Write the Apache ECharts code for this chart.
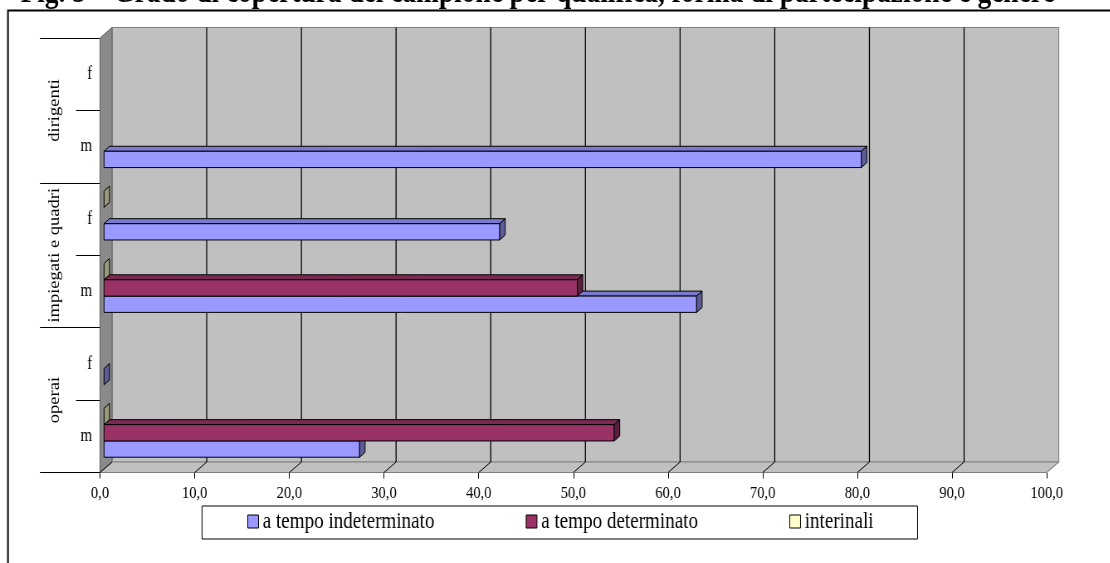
<!DOCTYPE html>
<html>
<head>
<meta charset="utf-8">
<script src="https://cdn.jsdelivr.net/npm/echarts@6/dist/echarts.min.js"></script>
<style>
  html, body { margin: 0; padding: 0; overflow: hidden; background: #fff; width: 1110px; height: 563px; }
  /* the chart is laid out wider and squeezed horizontally, giving the narrow serif look */
  #chart { width: 1337px; height: 563px; transform: scaleX(0.83); transform-origin: 0 0; }
</style>
</head>
<body>
<div id="chart"></div>
<script>
// ---- data ----
const groups = ['operai', 'impiegati e quadri', 'dirigenti'];
const genders = ['m', 'f', 'm', 'f', 'm', 'f'];
const indeterminato = [27.0, 0, 62.6, 41.8, 80.0, null];
const determinato = [53.9, null, 50.0, null, null, null];
const interinali = [0, null, 0, 0, null, null];
const seriesNames = ['a tempo indeterminato', 'a tempo determinato', 'interinali'];
const xTicks = [0, 10, 20, 30, 40, 50, 60, 70, 80, 90, 100];
const titleText = 'Fig. 5 – Grado di copertura del campione per qualifica, forma di partecipazione e genere';

// ---- styling ----
const FONT = '"Liberation Serif", "Times New Roman", serif';
const palette = [
  { front: '#9999FF', top: '#7A7ACC', side: '#5C5C99' },
  { front: '#993366', top: '#7A2952', side: '#5C1F3D' },
  { front: '#FFFFCC', top: '#CCCCA3', side: '#99997A' }
];
const WALL = [14.5, -10.5];      // depth of the box (back wall offset)
const BAR_FRONT = [4.8, -3.5];   // bars sit a little behind the front plane
const BAR_DEPTH = [6.6, -5];     // thickness of each bar in depth

const categories = genders.map((g, i) => groups[Math.floor(i / 2)] + '|' + g);

function renderWalls(params, api) {
  const cs = params.coordSys;
  const x0 = cs.x, x1 = cs.x + cs.width, yT = cs.y, yB = cs.y + cs.height;
  const [dx, dy] = WALL;
  const kids = [];
  kids.push({ type: 'rect', shape: { x: x0 + dx, y: yT + dy, width: x1 - x0, height: yB - yT },
    style: { fill: '#C0C0C0', stroke: '#808080', lineWidth: 1.2 } });
  kids.push({ type: 'polygon', shape: { points: [[x0, yT], [x0 + dx, yT + dy], [x0 + dx, yB + dy], [x0, yB]] },
    style: { fill: '#8A8A8A', stroke: '#606060', lineWidth: 1 } });
  kids.push({ type: 'polygon', shape: { points: [[x0, yB], [x0 + dx, yB + dy], [x1 + dx, yB + dy], [x1, yB]] },
    style: { fill: '#C0C0C0', stroke: '#808080', lineWidth: 1 } });
  xTicks.forEach(v => {
    const x = api.coord([v, 0])[0];
    if (v > xTicks[0] && v < xTicks[xTicks.length - 1]) {
      kids.push({ type: 'line', shape: { x1: x + dx, y1: yT + dy, x2: x + dx, y2: yB + dy },
        style: { stroke: '#000', lineWidth: 1.3 } });
    }
    kids.push({ type: 'line', shape: { x1: x, y1: yB, x2: x + dx, y2: yB + dy },
      style: { stroke: v === xTicks[xTicks.length - 1] ? '#808080' : '#000', lineWidth: 1 } });
  });
  return { type: 'group', children: kids };
}

function barRenderer(k) {
  return function (params, api) {
    const v = api.value(0), c = api.value(1);
    if (v == null || isNaN(v)) return;
    const start = api.coord([0, c]);
    const end = api.coord([v, c]);
    const band = api.size([0, 1])[1];
    const h = band * 0.225;
    const cy = start[1] + BAR_FRONT[1] + (1 - k) * h;
    const xl = start[0] + BAR_FRONT[0], xr = end[0] + BAR_FRONT[0];
    const yt = cy - h / 2, yb = cy + h / 2;
    const [bx, by] = BAR_DEPTH;
    const col = palette[k];
    const edge = { stroke: '#000', lineWidth: 1, lineJoin: 'round' };
    const kids = [];
    if (xr - xl > 0.5) {
      kids.push({ type: 'polygon', shape: { points: [[xl, yt], [xr, yt], [xr + bx, yt + by], [xl + bx, yt + by]] },
        style: Object.assign({ fill: col.top }, edge) });
      kids.push({ type: 'rect', shape: { x: xl, y: yt, width: xr - xl, height: h },
        style: Object.assign({ fill: col.front }, edge) });
    }
    kids.push({ type: 'polygon', shape: { points: [[xr, yt], [xr, yb], [xr + bx, yb + by], [xr + bx, yt + by]] },
      style: Object.assign({ fill: col.side }, edge) });
    return { type: 'group', children: kids };
  };
}

const barSeries = [indeterminato, determinato, interinali].map((vals, k) => ({
  type: 'custom',
  name: seriesNames[k],
  renderItem: barRenderer(k),
  encode: { x: 0, y: 1 },
  data: vals.map((v, i) => (v == null ? null : [v, i])).filter(d => d),
  clip: false,
  z: 3,
  itemStyle: { color: palette[k].front }
}));

const chart = echarts.init(document.getElementById('chart'));
chart.setOption({
  animation: false,
  backgroundColor: '#fff',
  grid: { left: 120.5, right: 75.9, top: 38, bottom: 90.5, containLabel: false },
  xAxis: {
    type: 'value', min: 0, max: 100, interval: 10,
    axisLine: { show: true, lineStyle: { color: '#000', width: 1 } },
    axisTick: { show: true, length: 6, lineStyle: { color: '#000' } },
    splitLine: { show: false },
    axisLabel: { margin: 12, fontFamily: FONT, fontSize: 17.5, color: '#000',
      formatter: v => v.toFixed(1).replace('.', ',') }
  },
  yAxis: [
    {
      type: 'category', data: categories, position: 'left',
      axisLine: { show: false },
      axisTick: { show: true, length: 29, interval: 0, lineStyle: { color: '#000' } },
      axisLabel: { interval: 0, margin: 9.6, fontFamily: FONT, fontSize: 18, color: '#000',
        formatter: s => s.split('|')[1] },
      splitLine: { show: false }
    },
    {
      type: 'category', data: groups, position: 'left', offset: 0,
      axisLine: { show: false },
      axisTick: { show: true, length: 72.3, interval: 0, lineStyle: { color: '#000' } },
      axisLabel: { interval: 0, rotate: 90, margin: 45, fontFamily: FONT, fontSize: 18.5, color: '#000' },
      splitLine: { show: false }
    }
  ],
  legend: {
    left: 243.4, top: 506, orient: 'horizontal', selectedMode: false,
    itemGap: 110, itemWidth: 13, itemHeight: 13,
    padding: [4, 53, 6, 54.6],
    borderColor: '#000', borderWidth: 1,
    textStyle: { fontFamily: FONT, fontSize: 23, color: '#000' },
    data: seriesNames.map((n, k) => ({ name: n, icon: 'rect',
      itemStyle: { color: palette[k].front, borderColor: '#000', borderWidth: 1 } }))
  },
  graphic: [
    { type: 'rect', silent: true, shape: { x: 9.6, y: 10.5, width: 1400, height: 700 },
      style: { fill: 'none', stroke: '#000', lineWidth: 2 } },
    { type: 'text', silent: true, x: 647.6, y: -7,
      style: { text: titleText, font: 'bold 33px ' + FONT, textAlign: 'center', verticalAlign: 'middle', fill: '#000' } }
  ],
  series: [
    { type: 'custom', name: 'walls', silent: true, z: 1, clip: false,
      data: [[0, 0]], encode: { x: 0, y: 1 }, renderItem: renderWalls }
  ].concat(barSeries)
});
</script>
</body>
</html>
